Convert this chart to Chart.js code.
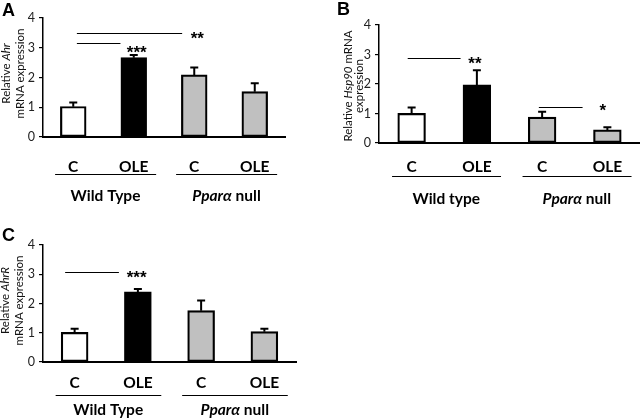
<!DOCTYPE html>
<html>
<head>
<meta charset="utf-8">
<script src="https://cdn.jsdelivr.net/npm/chart.js@4.4.0/dist/chart.umd.min.js"></script>
<style>
  body { margin: 0; background: #fff; width: 640px; height: 418px; position: relative; overflow: hidden; }
  canvas { position: absolute; }
</style>
</head>
<body>
<canvas id="chartA" width="320" height="210" style="left:0;top:0"></canvas>
<canvas id="chartB" width="320" height="210" style="left:320px;top:0"></canvas>
<canvas id="chartC" width="320" height="208" style="left:0;top:210px"></canvas>
<script>
// shared categories and tick labels
var categories = ['C', 'OLE', 'C', 'OLE'];
var yTicks = [0, 1, 2, 3, 4];
var groupsA = [[['Wild Type', false]], [['Ppar\u03b1', true], [' null', false]]];
var groupsB = [[['Wild type', false]], [['Ppar\u03b1', true], [' null', false]]];

// A: Ahr
var ahrMean = [1.02, 2.66, 2.08, 1.52];
var ahrSem = [0.14, 0.10, 0.26, 0.29];
// [from, to, line value, stars, star position, star value]
var ahrSig = [[0.06, 1.8, 3.49, '**', 2.05, 3.41], [0.06, 0.78, 3.16, '***', 1.05, 2.94]];

// B: Hsp90
var hspMean = [1.00, 1.97, 0.87, 0.44];
var hspSem = [0.20, 0.50, 0.19, 0.09];
var hspSig = [[-0.06, 0.75, 2.88, '**', 0.97, 2.78], [1.95, 2.62, 1.21, '*', 2.93, 1.19]];

// C: AhrR
var ahrrMean = [1.01, 2.39, 1.75, 1.03];
var ahrrSem = [0.13, 0.11, 0.35, 0.11];
var ahrrSig = [[-0.15, 0.70, 3.08, '***', 0.98, 2.99]];

var barFill = ['#ffffff', '#000000', '#c0c0c0', '#c0c0c0'];
var FAM = 'Lato, "Noto Sans", sans-serif';

function fontOf(italic, weight, size) {
    return (italic ? 'italic ' : '') + weight + ' ' + size + 'px ' + FAM;
}

function drawRich(ctx, parts, cx, cy, size, weight) {
    var total = 0;
    parts.forEach(function (p) {
        ctx.font = fontOf(p[1], weight, size);
        total += ctx.measureText(p[0]).width;
    });
    var x = cx - total / 2;
    ctx.textAlign = 'left';
    ctx.textBaseline = 'middle';
    parts.forEach(function (p) {
        ctx.font = fontOf(p[1], weight, size);
        ctx.fillText(p[0], x, cy);
        x += ctx.measureText(p[0]).width;
    });
}

function makePanel(id, letter, means, sems, sig, groups, titleLines, L) {
    var annot = {
        id: 'annot' + letter,
        afterDatasetsDraw: function (chart) {
            var ctx = chart.ctx, xs = chart.scales.x, ys = chart.scales.y, area = chart.chartArea;
            var meta = chart.getDatasetMeta(0);
            var step = xs.getPixelForValue(1) - xs.getPixelForValue(0);
            var px = function (i) { return xs.getPixelForValue(0) + i * step; };
            ctx.save();
            ctx.fillStyle = '#000';
            ctx.strokeStyle = '#000';

            // error bars
            ctx.lineWidth = 2;
            meta.data.forEach(function (bar, i) {
                var y0 = ys.getPixelForValue(means[i]);
                var y1 = ys.getPixelForValue(means[i] + sems[i]);
                ctx.beginPath();
                ctx.moveTo(bar.x, y0);
                ctx.lineTo(bar.x, y1);
                ctx.moveTo(bar.x - 4, y1);
                ctx.lineTo(bar.x + 4, y1);
                ctx.stroke();
            });

            // significance lines and stars
            ctx.lineWidth = 1.2;
            sig.forEach(function (s) {
                var y = Math.round(ys.getPixelForValue(s[2])) + 0.5;
                ctx.beginPath();
                ctx.moveTo(px(s[0]), y);
                ctx.lineTo(px(s[1]), y);
                ctx.stroke();
                ctx.font = 'bold 17px "Liberation Sans", Arial, sans-serif';
                ctx.textAlign = 'center';
                ctx.textBaseline = 'alphabetic';
                var m = ctx.measureText(s[3]);
                var cy = ys.getPixelForValue(s[5]);
                ctx.fillText(s[3], px(s[4]), cy + (m.actualBoundingBoxAscent - m.actualBoundingBoxDescent) / 2);
            });

            // category labels, group underlines and group names
            ctx.font = fontOf(false, 'bold', 15.5);
            ctx.textAlign = 'center';
            ctx.textBaseline = 'middle';
            categories.forEach(function (c, i) {
                ctx.fillText(c, px(i), area.bottom + L.catDy);
            });
            ctx.lineWidth = 1.2;
            groups.forEach(function (g, k) {
                var a = px(2 * k), b = px(2 * k + 1);
                var y = Math.round(area.bottom + L.lineDy) + 0.5;
                ctx.beginPath();
                ctx.moveTo(a - 0.3 * step, y);
                ctx.lineTo(b + 0.37 * step, y);
                ctx.stroke();
                drawRich(ctx, g, (a + b) / 2 + 2, area.bottom + L.groupDy, 15.5, 'bold');
            });

            // y axis title
            ctx.fillStyle = '#111';
            var cy = (area.top + area.bottom) / 2 + L.titleDy;
            titleLines.forEach(function (line, k) {
                ctx.save();
                ctx.translate(L.titleX + k * L.titleGap, cy);
                ctx.rotate(-Math.PI / 2);
                drawRich(ctx, line, 0, 0, 11.5, 'normal');
                ctx.restore();
            });

            // panel letter
            ctx.fillStyle = '#000';
            ctx.font = 'bold 18px "Liberation Sans", Arial, sans-serif';
            ctx.textAlign = 'left';
            ctx.textBaseline = 'top';
            ctx.fillText(letter, L.letterX, L.letterY);
            ctx.restore();
        }
    };

    return new Chart(document.getElementById(id), {
        type: 'bar',
        data: {
            labels: categories,
            datasets: [{
                data: means,
                backgroundColor: barFill,
                borderColor: '#000',
                borderWidth: 2.2,
                borderSkipped: false,
                inflateAmount: 0.5,
                barPercentage: 0.42,
                categoryPercentage: 1
            }]
        },
        options: {
            responsive: false,
            animation: false,
            layout: { padding: { left: 0, top: L.top, right: L.right, bottom: L.bottom } },
            plugins: { legend: { display: false }, tooltip: { enabled: false } },
            scales: {
                x: {
                    grid: { display: false, drawTicks: false },
                    border: { color: '#000', width: 2 },
                    ticks: { display: false },
                    afterFit: function (s) { s.height = 0; }
                },
                y: {
                    min: 0,
                    max: 4,
                    afterBuildTicks: function (s) { s.ticks = yTicks.map(function (v) { return { value: v }; }); },
                    ticks: { color: '#222', font: { family: FAM, size: 12.5 }, padding: 4 },
                    grid: { drawOnChartArea: false, color: '#000', tickLength: 4, lineWidth: 1.2 },
                    border: { color: '#000', width: 1.5 },
                    afterFit: function (s) { s.width = L.left; }
                }
            }
        },
        plugins: [annot]
    });
}

makePanel('chartA', 'A', ahrMean, ahrSem, ahrSig, groupsA,
    [[['Relative ', false], ['Ahr', true]], [['mRNA expression', false]]],
    { left: 43, top: 18, right: 35, bottom: 73, catDy: 29.5, lineDy: 37, groupDy: 59,
      titleX: 6, titleGap: 14, titleDy: -4, letterX: 2, letterY: 2 });

makePanel('chartB', 'B', hspMean, hspSem, hspSig, groupsB,
    [[['Relative ', false], ['Hsp90', true], [' mRNA', false]], [['expression', false]]],
    { left: 59, top: 25, right: 0, bottom: 67, catDy: 24, lineDy: 33, groupDy: 55.5,
      titleX: 28, titleGap: 11.5, titleDy: 2, letterX: 17, letterY: 1 });

makePanel('chartC', 'C', ahrrMean, ahrrSem, ahrrSig, groupsA,
    [[['Relative ', false], ['AhrR', true]], [['mRNA expression', false]]],
    { left: 43, top: 35, right: 24, bottom: 56, catDy: 20.5, lineDy: 33, groupDy: 48,
      titleX: 5, titleGap: 14, titleDy: -3, letterX: 2, letterY: 17 });
</script>
</body>
</html>
